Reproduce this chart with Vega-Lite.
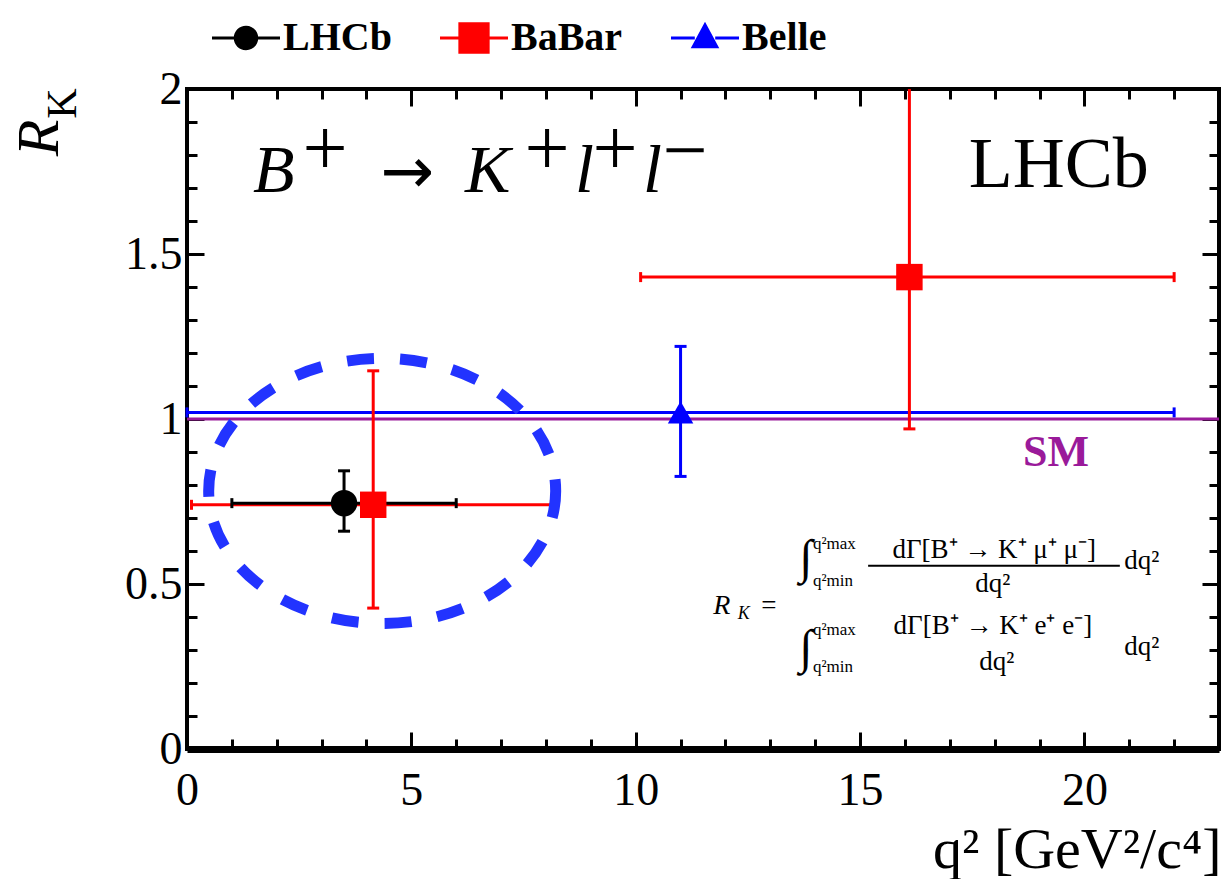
{
  "$schema": "https://vega.github.io/schema/vega-lite/v6.json",
  "width": 1032,
  "height": 660,
  "autosize": {"type": "none"},
  "padding": {"left": 187, "top": 89, "right": 4, "bottom": 130},
  "background": "white",
  "config": {"view": {"stroke": "black", "strokeWidth": 4}, "font": "Liberation Serif"},
  "datasets": {
    "meas": [
      {"exp": "Belle", "x": 11.0, "xlo": 0.0, "xhi": 22.0, "y": 1.02, "ylo": 0.826, "yhi": 1.22},
      {"exp": "BaBar", "x": 16.1, "xlo": 10.11, "xhi": 22.0, "y": 1.43, "ylo": 0.97, "yhi": 2.08},
      {"exp": "BaBar", "x": 4.15, "xlo": 0.1, "xhi": 8.12, "y": 0.74, "ylo": 0.427, "yhi": 1.146},
      {"exp": "LHCb", "x": 3.5, "xlo": 1.0, "xhi": 6.0, "y": 0.745, "ylo": 0.66, "yhi": 0.843}
    ],
    "sm": [{"y": 1}],
    "ellipse": [{"x": 4.35, "y": 0.782}],
    "bigItalic": [
      {"x": 1.471, "y": 1.689, "t": "B"},
      {"x": 6.196, "y": 1.689, "t": "K"},
      {"x": 8.647, "y": 1.689, "t": "l"},
      {"x": 10.163, "y": 1.689, "t": "l"}
    ],
    "bigScript": [
      {"x": 3.076, "y": 1.811, "t": "+"},
      {"x": 8.023, "y": 1.811, "t": "+"},
      {"x": 9.539, "y": 1.811, "t": "+"},
      {"x": 11.099, "y": 1.805, "t": "−"}
    ],
    "arrow": [{"x": 4.903, "y": 1.741, "t": "→"}],
    "lhcbLabel": [{"x": 19.43, "y": 1.704, "t": "LHCb"}],
    "smLabel": [{"x": 19.37, "y": 0.857, "t": "SM"}],
    "fItalic": [{"x": 11.92, "y": 0.433, "t": "R"}],
    "fSub": [{"x": 12.41, "y": 0.409, "t": "K"}],
    "fMain": [
      {"x": 12.97, "y": 0.433, "t": "="},
      {"x": 17.99, "y": 0.604, "t": "dΓ[B⁺ → K⁺ μ⁺ μ⁻]"},
      {"x": 17.96, "y": 0.5, "t": "dq²"},
      {"x": 21.28, "y": 0.57, "t": "dq²"},
      {"x": 17.96, "y": 0.372, "t": "dΓ[B⁺ → K⁺ e⁺ e⁻]"},
      {"x": 18.05, "y": 0.265, "t": "dq²"},
      {"x": 21.28, "y": 0.308, "t": "dq²"}
    ],
    "fLimits": [
      {"x": 13.95, "y": 0.622, "t": "q²max"},
      {"x": 13.95, "y": 0.509, "t": "q²min"},
      {"x": 13.95, "y": 0.36, "t": "q²max"},
      {"x": 13.95, "y": 0.25, "t": "q²min"}
    ],
    "fInt": [
      {"x": 13.8, "y": 0.576, "t": "∫"},
      {"x": 13.8, "y": 0.302, "t": "∫"}
    ],
    "fBar": [{"x": 15.18, "x2": 20.79, "y": 0.555}],
    "yTitle": [{"x": -3.276, "y": 1.852, "t": "R"}],
    "yTitleSub": [{"x": -2.764, "y": 1.956, "t": "K"}]
  },
  "layer": [
    {
      "data": {"name": "sm"},
      "mark": {"type": "rule", "color": "#9a1a9a", "strokeWidth": 3},
      "encoding": {"y": {"field": "y", "type": "quantitative", "scale": {"domain": [0, 2], "nice": false, "zero": false}, "axis": null}}
    },
    {
      "data": {"name": "meas"},
      "mark": {"type": "rule", "strokeWidth": 3},
      "encoding": {
        "x": {"field": "xlo", "type": "quantitative", "scale": {"domain": [0, 23], "nice": false, "zero": false},
          "axis": {
            "orient": "bottom",
            "values": [0,1,2,3,4,5,6,7,8,9,10,11,12,13,14,15,16,17,18,19,20,21,22,23],
            "labelExpr": "datum.value % 5 === 0 ? datum.label : ''",
            "labelOverlap": false, "labelFlush": false, "labelBound": false,
            "tickSize": {"condition": {"test": "datum.value % 5 === 0", "value": -17}, "value": -10},
            "tickWidth": 3, "tickColor": "black",
            "domain": true, "domainColor": "black", "domainWidth": 7,
            "grid": false,
            "labelFont": "Liberation Serif", "labelFontSize": 46, "labelColor": "black", "labelPadding": 36,
            "title": "q² [GeV²/c⁴]", "titleFont": "Liberation Serif", "titleFontSize": 58, "titleFontWeight": "normal", "titleColor": "black",
            "titleAnchor": "end", "titleAlign": "right", "titleBaseline": "alphabetic", "titleX": 1034, "titleY": 118
          }},
        "x2": {"field": "xhi"},
        "y": {"field": "y", "type": "quantitative", "scale": {"domain": [0, 2], "nice": false, "zero": false},
          "axis": {
            "orient": "left",
            "values": [0,0.1,0.2,0.3,0.4,0.5,0.6,0.7,0.8,0.9,1,1.1,1.2,1.3,1.4,1.5,1.6,1.7,1.8,1.9,2],
            "labelExpr": "abs(datum.value*2 - round(datum.value*2)) < 0.001 ? format(datum.value, '~g') : ''",
            "labelOverlap": false, "labelFlush": false, "labelBound": false,
            "tickSize": {"condition": {"test": "abs(datum.value*2 - round(datum.value*2)) < 0.001", "value": -17}, "value": -10},
            "tickWidth": 3, "tickColor": "black",
            "domain": false, "grid": false,
            "labelFont": "Liberation Serif", "labelFontSize": 46, "labelColor": "black", "labelPadding": 22,
            "title": null
          }},
        "stroke": {"field": "exp", "type": "nominal", "scale": {"domain": ["BaBar", "Belle", "LHCb"], "range": ["#ff0000", "#0000ff", "#000000"]}, "legend": null}
      }
    },
    {
      "data": {"name": "meas"},
      "mark": {"type": "rule", "strokeWidth": 3, "clip": true},
      "encoding": {
        "x": {"field": "x", "type": "quantitative", "scale": {"domain": [0, 23], "nice": false, "zero": false},
          "axis": {
            "orient": "top",
            "values": [0,1,2,3,4,5,6,7,8,9,10,11,12,13,14,15,16,17,18,19,20,21,22,23],
            "labels": false,
            "tickSize": {"condition": {"test": "datum.value % 5 === 0", "value": -17}, "value": -10},
            "tickWidth": 3, "tickColor": "black",
            "domain": false, "grid": false, "title": null
          }},
        "y": {"field": "ylo", "type": "quantitative", "scale": {"domain": [0, 2], "nice": false, "zero": false},
          "axis": {
            "orient": "right",
            "values": [0,0.1,0.2,0.3,0.4,0.5,0.6,0.7,0.8,0.9,1,1.1,1.2,1.3,1.4,1.5,1.6,1.7,1.8,1.9,2],
            "labels": false,
            "tickSize": {"condition": {"test": "abs(datum.value*2 - round(datum.value*2)) < 0.001", "value": -17}, "value": -10},
            "tickWidth": 3, "tickColor": "black",
            "domain": false, "grid": false, "title": null
          }},
        "y2": {"field": "yhi"},
        "stroke": {"field": "exp", "type": "nominal", "scale": {"domain": ["BaBar", "Belle", "LHCb"], "range": ["#ff0000", "#0000ff", "#000000"]}, "legend": null}
      }
    },
    {
      "data": {"name": "meas"},
      "transform": [{"fold": ["ylo", "yhi"], "as": ["end", "yv"]}],
      "mark": {"type": "tick", "orient": "horizontal", "size": 12, "thickness": 3, "clip": true, "opacity": 1},
      "encoding": {
        "x": {"field": "x", "type": "quantitative", "scale": {"domain": [0, 23], "nice": false, "zero": false}, "axis": null},
        "y": {"field": "yv", "type": "quantitative", "scale": {"domain": [0, 2], "nice": false, "zero": false}, "axis": null},
        "fill": {"field": "exp", "type": "nominal", "scale": {"domain": ["Belle", "LHCb", "BaBar"], "range": ["#0000ff", "#000000", "#ff0000"]}, "legend": null}
      }
    },
    {
      "data": {"name": "meas"},
      "transform": [{"fold": ["xlo", "xhi"], "as": ["end", "xv"]}],
      "mark": {"type": "tick", "orient": "vertical", "size": 10, "thickness": 3, "opacity": 1},
      "encoding": {
        "x": {"field": "xv", "type": "quantitative", "scale": {"domain": [0, 23], "nice": false, "zero": false}, "axis": null},
        "y": {"field": "y", "type": "quantitative", "scale": {"domain": [0, 2], "nice": false, "zero": false}, "axis": null},
        "fill": {"field": "exp", "type": "nominal", "scale": {"domain": ["Belle", "LHCb", "BaBar"], "range": ["#0000ff", "#000000", "#ff0000"]}, "legend": null}
      }
    },
    {
      "data": {"name": "meas"},
      "mark": {"type": "point", "filled": true, "opacity": 0},
      "encoding": {
        "x": {"field": "x", "type": "quantitative", "scale": {"domain": [0, 23], "nice": false, "zero": false}, "axis": null},
        "y": {"field": "y", "type": "quantitative", "scale": {"domain": [0, 2], "nice": false, "zero": false}, "axis": null},
        "color": {"field": "exp", "type": "nominal", "scale": {"domain": ["LHCb", "BaBar", "Belle"], "range": ["#000000", "#ff0000", "#0000ff"]},
          "legend": {
            "orient": "none", "legendX": 25, "legendY": -85, "direction": "horizontal", "title": null,
            "symbolSize": 4624, "symbolOpacity": 1, "symbolStrokeWidth": 0,
            "labelFont": "Liberation Serif", "labelFontSize": 40, "labelFontWeight": "bold", "labelColor": "black", "labelOffset": 3,
            "columnPadding": 48
          }},
        "shape": {"field": "exp", "type": "nominal",
          "scale": {"domain": ["LHCb", "BaBar", "Belle"], "range": [
            "M-1,-0.045H-0.3V0.045H-1ZM0.3,-0.045H1V0.045H0.3ZM0.36,0A0.36,0.36 0 1,1 -0.36,0A0.36,0.36 0 1,1 0.36,0Z",
            "M-1,-0.045H-0.4V0.045H-1ZM0.4,-0.045H1V0.045H0.4ZM-0.46,-0.46H0.46V0.46H-0.46Z",
            "M-1,-0.045H-0.3V0.045H-1ZM0.3,-0.045H1V0.045H0.3ZM0,-0.48L0.42,0.3H-0.42Z"
          ]},
          "legend": {
            "orient": "none", "legendX": 25, "legendY": -85, "direction": "horizontal", "title": null,
            "symbolSize": 4624, "symbolOpacity": 1, "symbolStrokeWidth": 0,
            "labelFont": "Liberation Serif", "labelFontSize": 40, "labelFontWeight": "bold", "labelColor": "black", "labelOffset": 3,
            "columnPadding": 48
          }}
      }
    },
    {
      "data": {"name": "meas"},
      "transform": [{"filter": "datum.exp === 'BaBar'"}],
      "mark": {"type": "point", "filled": true, "opacity": 1, "size": 700, "shape": "square", "color": "#ff0000"},
      "encoding": {
        "x": {"field": "x", "type": "quantitative", "scale": {"domain": [0, 23], "nice": false, "zero": false}, "axis": null},
        "y": {"field": "y", "type": "quantitative", "scale": {"domain": [0, 2], "nice": false, "zero": false}, "axis": null}
      }
    },
    {
      "data": {"name": "meas"},
      "transform": [{"filter": "datum.exp === 'Belle'"}],
      "mark": {"type": "point", "filled": true, "opacity": 1, "size": 650, "shape": "triangle-up", "color": "#0000ff"},
      "encoding": {
        "x": {"field": "x", "type": "quantitative", "scale": {"domain": [0, 23], "nice": false, "zero": false}, "axis": null},
        "y": {"field": "y", "type": "quantitative", "scale": {"domain": [0, 2], "nice": false, "zero": false}, "axis": null}
      }
    },
    {
      "data": {"name": "meas"},
      "transform": [{"filter": "datum.exp === 'LHCb'"}],
      "mark": {"type": "point", "filled": true, "opacity": 1, "size": 700, "shape": "circle", "color": "#000000"},
      "encoding": {
        "x": {"field": "x", "type": "quantitative", "scale": {"domain": [0, 23], "nice": false, "zero": false}, "axis": null},
        "y": {"field": "y", "type": "quantitative", "scale": {"domain": [0, 2], "nice": false, "zero": false}, "axis": null}
      }
    },
    {
      "data": {"name": "ellipse"},
      "mark": {"type": "point", "shape": "M1,0A1,0.764 0 1,1 -1,0A1,0.764 0 1,1 1,0Z", "size": 120409, "filled": false, "stroke": "#2233ff", "strokeWidth": 11, "strokeDash": [27, 26], "opacity": 1},
      "encoding": {
        "x": {"field": "x", "type": "quantitative", "scale": {"domain": [0, 23], "nice": false, "zero": false}, "axis": null},
        "y": {"field": "y", "type": "quantitative", "scale": {"domain": [0, 2], "nice": false, "zero": false}, "axis": null}
      }
    },
    {
      "data": {"name": "bigItalic"},
      "mark": {"type": "text", "font": "Liberation Serif", "fontStyle": "italic", "fontSize": 68, "align": "left", "baseline": "alphabetic", "color": "black"},
      "encoding": {
        "x": {"field": "x", "type": "quantitative", "scale": {"domain": [0, 23], "nice": false, "zero": false}, "axis": null},
        "y": {"field": "y", "type": "quantitative", "scale": {"domain": [0, 2], "nice": false, "zero": false}, "axis": null},
        "text": {"field": "t"}
      }
    },
    {
      "data": {"name": "bigScript"},
      "mark": {"type": "text", "font": "Liberation Serif", "fontSize": 80, "align": "center", "baseline": "middle", "color": "black"},
      "encoding": {
        "x": {"field": "x", "type": "quantitative", "scale": {"domain": [0, 23], "nice": false, "zero": false}, "axis": null},
        "y": {"field": "y", "type": "quantitative", "scale": {"domain": [0, 2], "nice": false, "zero": false}, "axis": null},
        "text": {"field": "t"}
      }
    },
    {
      "data": {"name": "arrow"},
      "mark": {"type": "text", "font": "DejaVu Sans", "fontSize": 64, "align": "center", "baseline": "middle", "color": "black"},
      "encoding": {
        "x": {"field": "x", "type": "quantitative", "scale": {"domain": [0, 23], "nice": false, "zero": false}, "axis": null},
        "y": {"field": "y", "type": "quantitative", "scale": {"domain": [0, 2], "nice": false, "zero": false}, "axis": null},
        "text": {"field": "t"}
      }
    },
    {
      "data": {"name": "lhcbLabel"},
      "mark": {"type": "text", "font": "Liberation Serif", "fontSize": 72, "align": "center", "baseline": "alphabetic", "color": "black"},
      "encoding": {
        "x": {"field": "x", "type": "quantitative", "scale": {"domain": [0, 23], "nice": false, "zero": false}, "axis": null},
        "y": {"field": "y", "type": "quantitative", "scale": {"domain": [0, 2], "nice": false, "zero": false}, "axis": null},
        "text": {"field": "t"}
      }
    },
    {
      "data": {"name": "smLabel"},
      "mark": {"type": "text", "font": "Liberation Serif", "fontSize": 44, "fontWeight": "bold", "align": "center", "baseline": "alphabetic", "color": "#9a1a9a"},
      "encoding": {
        "x": {"field": "x", "type": "quantitative", "scale": {"domain": [0, 23], "nice": false, "zero": false}, "axis": null},
        "y": {"field": "y", "type": "quantitative", "scale": {"domain": [0, 2], "nice": false, "zero": false}, "axis": null},
        "text": {"field": "t"}
      }
    },
    {
      "data": {"name": "fItalic"},
      "mark": {"type": "text", "font": "Liberation Serif", "fontStyle": "italic", "fontSize": 28, "align": "center", "baseline": "middle", "color": "black"},
      "encoding": {
        "x": {"field": "x", "type": "quantitative", "scale": {"domain": [0, 23], "nice": false, "zero": false}, "axis": null},
        "y": {"field": "y", "type": "quantitative", "scale": {"domain": [0, 2], "nice": false, "zero": false}, "axis": null},
        "text": {"field": "t"}
      }
    },
    {
      "data": {"name": "fSub"},
      "mark": {"type": "text", "font": "Liberation Serif", "fontStyle": "italic", "fontSize": 18, "align": "center", "baseline": "middle", "color": "black"},
      "encoding": {
        "x": {"field": "x", "type": "quantitative", "scale": {"domain": [0, 23], "nice": false, "zero": false}, "axis": null},
        "y": {"field": "y", "type": "quantitative", "scale": {"domain": [0, 2], "nice": false, "zero": false}, "axis": null},
        "text": {"field": "t"}
      }
    },
    {
      "data": {"name": "fMain"},
      "mark": {"type": "text", "font": "Liberation Serif", "fontSize": 27, "align": "center", "baseline": "middle", "color": "black"},
      "encoding": {
        "x": {"field": "x", "type": "quantitative", "scale": {"domain": [0, 23], "nice": false, "zero": false}, "axis": null},
        "y": {"field": "y", "type": "quantitative", "scale": {"domain": [0, 2], "nice": false, "zero": false}, "axis": null},
        "text": {"field": "t"}
      }
    },
    {
      "data": {"name": "fLimits"},
      "mark": {"type": "text", "font": "Liberation Serif", "fontSize": 17, "align": "left", "baseline": "middle", "color": "black"},
      "encoding": {
        "x": {"field": "x", "type": "quantitative", "scale": {"domain": [0, 23], "nice": false, "zero": false}, "axis": null},
        "y": {"field": "y", "type": "quantitative", "scale": {"domain": [0, 2], "nice": false, "zero": false}, "axis": null},
        "text": {"field": "t"}
      }
    },
    {
      "data": {"name": "fInt"},
      "mark": {"type": "text", "font": "Liberation Serif", "fontSize": 48, "align": "center", "baseline": "middle", "color": "black"},
      "encoding": {
        "x": {"field": "x", "type": "quantitative", "scale": {"domain": [0, 23], "nice": false, "zero": false}, "axis": null},
        "y": {"field": "y", "type": "quantitative", "scale": {"domain": [0, 2], "nice": false, "zero": false}, "axis": null},
        "text": {"field": "t"}
      }
    },
    {
      "data": {"name": "fBar"},
      "mark": {"type": "rule", "color": "black", "strokeWidth": 2},
      "encoding": {
        "x": {"field": "x", "type": "quantitative", "scale": {"domain": [0, 23], "nice": false, "zero": false}, "axis": null},
        "x2": {"field": "x2"},
        "y": {"field": "y", "type": "quantitative", "scale": {"domain": [0, 2], "nice": false, "zero": false}, "axis": null}
      }
    },
    {
      "data": {"name": "yTitle"},
      "mark": {"type": "text", "font": "Liberation Serif", "fontStyle": "italic", "fontSize": 60, "align": "center", "baseline": "middle", "angle": 270, "color": "black"},
      "encoding": {
        "x": {"field": "x", "type": "quantitative", "scale": {"domain": [0, 23], "nice": false, "zero": false}, "axis": null},
        "y": {"field": "y", "type": "quantitative", "scale": {"domain": [0, 2], "nice": false, "zero": false}, "axis": null},
        "text": {"field": "t"}
      }
    },
    {
      "data": {"name": "yTitleSub"},
      "mark": {"type": "text", "font": "Liberation Serif", "fontSize": 42, "align": "center", "baseline": "middle", "angle": 270, "color": "black"},
      "encoding": {
        "x": {"field": "x", "type": "quantitative", "scale": {"domain": [0, 23], "nice": false, "zero": false}, "axis": null},
        "y": {"field": "y", "type": "quantitative", "scale": {"domain": [0, 2], "nice": false, "zero": false}, "axis": null},
        "text": {"field": "t"}
      }
    }
  ],
  "resolve": {"axis": {"x": "independent", "y": "independent"}}
}
